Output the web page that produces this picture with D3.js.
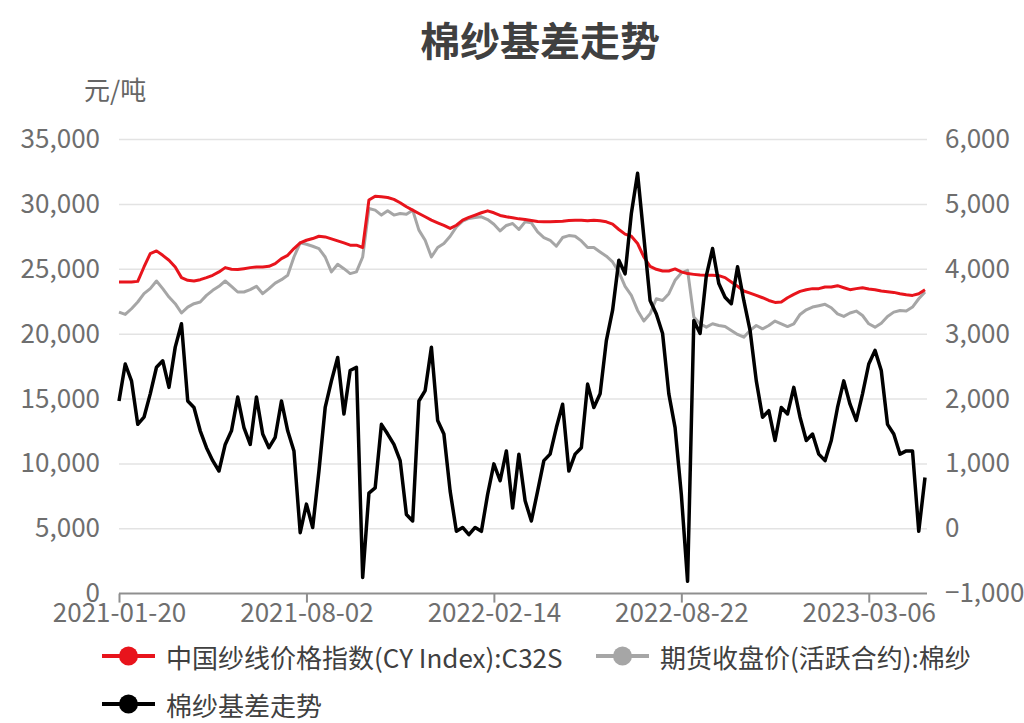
<!DOCTYPE html>
<html>
<head>
<meta charset="utf-8">
<script src="https://cdn.jsdelivr.net/npm/d3@7/dist/d3.min.js"></script>
<style>
  body { margin: 0; background: #fff; }
  text { font-family: "Noto Sans CJK SC", "Noto Sans", sans-serif; }
</style>
</head>
<body>
<svg id="chart" width="1024" height="723"></svg>
<script>
// x-axis labels and the sample index each one sits at
const tickLabels = ["2021-01-20", "2021-08-02", "2022-02-14", "2022-08-22", "2023-03-06"];
const tickIndex = [0, 30, 60, 90, 120];

// left axis (元/吨) and right axis (basis) ticks
const leftTicks = [0, 5000, 10000, 15000, 20000, 25000, 30000, 35000];
const rightTicks = [-1000, 0, 1000, 2000, 3000, 4000, 5000, 6000];

// 中国纱线价格指数(CY Index):C32S
const cyIndex = [
  24020,24020,24020,24070,25180,26210,26420,26080,25700,25180,24360,24150,24100,24200,24360,24540,24800,25130,25000,
  24980,25050,25130,25180,25180,25230,25440,25830,26080,26600,27040,27240,27370,27550,27500,27350,27190,27040,26860,
  26860,26680,30340,30640,30590,30540,30390,30130,29820,29560,29300,29050,28790,28580,28380,28150,28400,28790,29000,
  29180,29360,29510,29360,29150,29050,28970,28890,28840,28760,28690,28660,28660,28690,28710,28760,28790,28790,28740,
  28790,28740,28660,28480,28070,27710,27550,26990,25950,25230,25000,24870,24870,25030,24800,24670,24610,24560,24540,
  24540,24510,24360,24020,23690,23330,23170,22990,22810,22600,22450,22480,22810,23070,23300,23430,23510,23510,23640,
  23640,23740,23580,23430,23510,23580,23480,23430,23330,23270,23220,23120,23040,22990,23120,23430
];

// 期货收盘价(活跃合约):棉纱
const futuresClose = [
  21700,21520,21960,22480,23120,23510,24100,23510,22860,22350,21630,22090,22350,22480,22990,23380,23690,24100,23690,
  23250,23250,23430,23690,23120,23510,23940,24200,24540,25950,27040,26930,26780,26600,25950,24800,25390,25050,24670,
  24800,25950,29690,29560,29180,29510,29180,29300,29250,29560,28020,27240,25950,26680,26990,27550,28270,28710,28920,
  29000,29050,28840,28480,27960,28380,28530,28070,28660,28580,27890,27450,27240,26780,27450,27600,27550,27190,26680,
  26680,26340,26010,25570,24800,23690,22990,21830,21010,21570,22730,22600,23120,24150,24720,24920,21320,20800,20540,
  20800,20670,20590,20290,19980,19770,20290,20670,20410,20670,21010,20800,20590,20800,21520,21880,22090,22190,22300,
  22040,21570,21370,21630,21780,21440,20800,20540,20850,21370,21700,21830,21780,22090,22730,23250
];

// 棉纱基差走势 (right axis)
const basis = [
  1970,2540,2280,1610,1720,2080,2490,2590,2180,2800,3160,1970,1870,1510,1250,1050,890,1300,1510,
  2030,1560,1300,2030,1460,1250,1410,1970,1510,1200,-60,380,20,890,1870,2280,2640,1770,2440,
  2490,-750,550,630,1610,1460,1300,1050,220,120,1970,2130,2800,1670,1460,580,-40,20,-90,
  20,-40,530,1000,740,1200,320,1150,430,120,580,1050,1150,1560,1920,890,1150,1250,2230,
  1870,2080,2900,3370,4140,3930,4860,5480,4500,3520,3310,3010,2080,1560,530,-810,3210,3010,3900,
  4320,3780,3570,3470,4040,3520,3060,2280,1720,1820,1360,1870,1770,2180,1720,1360,1460,1150,1050,
  1360,1870,2280,1920,1670,2080,2540,2750,2440,1610,1460,1150,1200,1200,-40,790
];

const seriesNames = ["中国纱线价格指数(CY Index):C32S", "期货收盘价(活跃合约):棉纱", "棉纱基差走势"];
const seriesColors = ["#e8141c", "#a6a6a6", "#000000"];

const svg = d3.select("#chart");
const plot = { left: 119, right: 925, top: 139.6, bottom: 593.6, gridRight: 927 };
const fontSize = 26;

const x = d3.scaleLinear().domain([0, basis.length - 1]).range([plot.left, plot.right]);
const yL = d3.scaleLinear().domain([0, 35000]).range([plot.bottom, plot.top]);
const yR = d3.scaleLinear().domain([-1000, 6000]).range([plot.bottom, plot.top]);

// title
svg.append("text")
  .attr("x", 540).attr("y", 39)
  .attr("text-anchor", "middle").attr("dominant-baseline", "central")
  .attr("font-size", 40).attr("font-weight", 700).attr("fill", "#404040")
  .text("棉纱基差走势");

// unit label
svg.append("text")
  .attr("x", 84).attr("y", 88)
  .attr("dominant-baseline", "central")
  .attr("font-size", fontSize).attr("fill", "#666")
  .text("元/吨");

// horizontal grid
svg.append("g").selectAll("line")
  .data(leftTicks.filter(d => d > 0))
  .join("line")
  .attr("x1", plot.left).attr("x2", plot.gridRight)
  .attr("y1", d => yL(d)).attr("y2", d => yL(d))
  .attr("stroke", "#e3e3e3").attr("stroke-width", 1.5);

// left axis labels
const fmt = d3.format(",");
svg.append("g").selectAll("text")
  .data(leftTicks)
  .join("text")
  .attr("x", 100).attr("y", d => yL(d) - 3)
  .attr("text-anchor", "end").attr("dominant-baseline", "central")
  .attr("font-size", fontSize).attr("fill", "#6e6e6e")
  .text(d => fmt(d));

// right axis labels
svg.append("g").selectAll("text")
  .data(rightTicks)
  .join("text")
  .attr("x", 945).attr("y", d => yR(d) - 3)
  .attr("text-anchor", "start").attr("dominant-baseline", "central")
  .attr("font-size", fontSize).attr("fill", "#6e6e6e")
  .text(d => fmt(d));

// bottom axis
const xAxis = d3.axisBottom(x)
  .tickValues(tickIndex)
  .tickFormat((d, i) => tickLabels[i])
  .tickSize(9)
  .tickSizeOuter(0)
  .tickPadding(1);
const gx = svg.append("g").attr("transform", `translate(0,${plot.bottom})`).call(xAxis);
gx.select(".domain").attr("stroke", "#8f8f8f").attr("stroke-width", 2)
  .attr("d", `M${plot.left},0H${plot.gridRight}`);
gx.selectAll(".tick line").attr("stroke", "#8f8f8f").attr("stroke-width", 2);
gx.selectAll(".tick text")
  .attr("font-size", fontSize).attr("fill", "#6e6e6e")
  .attr("font-family", "'Noto Sans CJK SC', 'Noto Sans', sans-serif");

// series lines
const lineL = d3.line().x((d, i) => x(i)).y(d => yL(d));
const lineR = d3.line().x((d, i) => x(i)).y(d => yR(d));

svg.append("path").datum(futuresClose)
  .attr("d", lineL).attr("fill", "none")
  .attr("stroke", seriesColors[1]).attr("stroke-width", 3).attr("stroke-linejoin", "round");
svg.append("path").datum(cyIndex)
  .attr("d", lineL).attr("fill", "none")
  .attr("stroke", seriesColors[0]).attr("stroke-width", 3).attr("stroke-linejoin", "round");
svg.append("path").datum(basis)
  .attr("d", lineR).attr("fill", "none")
  .attr("stroke", seriesColors[2]).attr("stroke-width", 3.5).attr("stroke-linejoin", "round");

// legend
const legendItems = [
  { x: 102, y: 656, name: seriesNames[0], color: seriesColors[0] },
  { x: 596, y: 656, name: seriesNames[1], color: seriesColors[1] },
  { x: 102, y: 704, name: seriesNames[2], color: seriesColors[2] }
];
const lg = svg.append("g").selectAll("g").data(legendItems).join("g")
  .attr("transform", d => `translate(${d.x},${d.y})`);
lg.append("line").attr("x1", 0).attr("x2", 53).attr("y1", 0).attr("y2", 0)
  .attr("stroke", d => d.color).attr("stroke-width", 4);
lg.append("circle").attr("cx", 26.5).attr("cy", 0).attr("r", 9.5)
  .attr("fill", d => d.color);
lg.append("text").attr("x", 64).attr("y", 0)
  .attr("dominant-baseline", "central")
  .attr("font-size", fontSize).attr("fill", "#404040")
  .text(d => d.name);
</script>
</body>
</html>
